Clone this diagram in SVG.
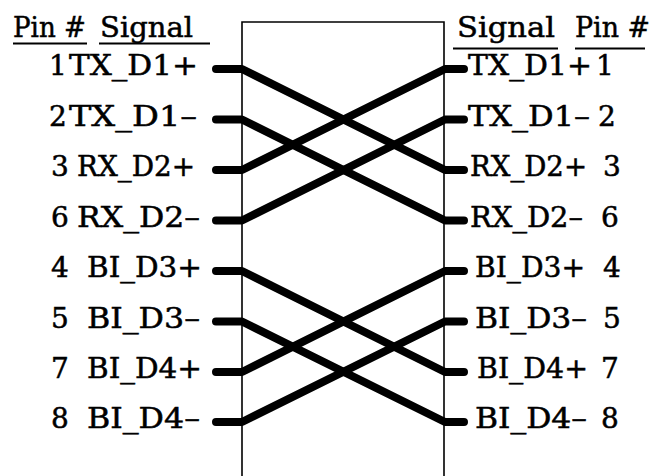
<svg xmlns="http://www.w3.org/2000/svg" width="654" height="476" viewBox="0 0 654 476">
<style>
text{font-family:"DejaVu Serif","Liberation Serif",serif;font-size:28px;fill:#000;stroke:#000;stroke-width:0.5}
.ul{stroke:#000;stroke-width:2;fill:none}
.box{stroke:#000;stroke-width:1.6;fill:none}
.wire{stroke:#000;stroke-width:8;fill:none;stroke-linecap:round;stroke-linejoin:round}
</style>
<rect width="654" height="476" fill="#fff"/>
<g id="box"><path class="box" d="M242,476 V22 H444 V476"/></g>
<g id="header-left">
<text x="13" y="37" textLength="73" lengthAdjust="spacingAndGlyphs">Pin #</text>
<text x="100" y="37" textLength="93" lengthAdjust="spacingAndGlyphs">Signal</text>
<line class="ul" x1="13" y1="43.5" x2="87" y2="43.5"/>
<line class="ul" x1="99" y1="43.5" x2="210" y2="43.5"/>
</g>
<g id="header-right">
<text x="457" y="37" textLength="98" lengthAdjust="spacingAndGlyphs">Signal</text>
<text x="575" y="37" textLength="75" lengthAdjust="spacingAndGlyphs">Pin #</text>
<line class="ul" x1="453" y1="48.5" x2="558" y2="48.5"/>
<line class="ul" x1="575" y1="48.5" x2="645" y2="48.5"/>
</g>
<g id="left-1"><text x="49" y="75">1</text><text x="69" y="75" textLength="129" lengthAdjust="spacingAndGlyphs">TX_D1+</text></g>
<g id="left-2"><text x="49" y="125.5">2</text><text x="69" y="125.5" textLength="128" lengthAdjust="spacingAndGlyphs">TX_D1–</text></g>
<g id="left-3"><text x="51" y="176">3</text><text x="77" y="176" textLength="118" lengthAdjust="spacingAndGlyphs">RX_D2+</text></g>
<g id="left-6"><text x="51" y="226.5">6</text><text x="77" y="226.5" textLength="123" lengthAdjust="spacingAndGlyphs">RX_D2–</text></g>
<g id="left-4"><text x="51" y="277">4</text><text x="87" y="277" textLength="115" lengthAdjust="spacingAndGlyphs">BI_D3+</text></g>
<g id="left-5"><text x="51" y="327.5">5</text><text x="87" y="327.5" textLength="113" lengthAdjust="spacingAndGlyphs">BI_D3–</text></g>
<g id="left-7"><text x="51" y="378">7</text><text x="87" y="378" textLength="115" lengthAdjust="spacingAndGlyphs">BI_D4+</text></g>
<g id="left-8"><text x="51" y="428">8</text><text x="87" y="428" textLength="113" lengthAdjust="spacingAndGlyphs">BI_D4–</text></g>
<g id="right-1"><text x="468" y="75" textLength="124" lengthAdjust="spacingAndGlyphs">TX_D1+</text><text x="596" y="75">1</text></g>
<g id="right-2"><text x="468" y="125.5" textLength="122" lengthAdjust="spacingAndGlyphs">TX_D1–</text><text x="598" y="125.5">2</text></g>
<g id="right-3"><text x="470" y="176" textLength="117" lengthAdjust="spacingAndGlyphs">RX_D2+</text><text x="603" y="176">3</text></g>
<g id="right-6"><text x="470" y="226.5" textLength="113" lengthAdjust="spacingAndGlyphs">RX_D2–</text><text x="601" y="226.5">6</text></g>
<g id="right-4"><text x="475" y="277" textLength="110" lengthAdjust="spacingAndGlyphs">BI_D3+</text><text x="603" y="277">4</text></g>
<g id="right-5"><text x="475" y="327.5" textLength="112" lengthAdjust="spacingAndGlyphs">BI_D3–</text><text x="603" y="327.5">5</text></g>
<g id="right-7"><text x="477" y="378" textLength="111" lengthAdjust="spacingAndGlyphs">BI_D4+</text><text x="601" y="378">7</text></g>
<g id="right-8"><text x="475" y="428" textLength="112" lengthAdjust="spacingAndGlyphs">BI_D4–</text><text x="601" y="428">8</text></g>
<g id="connectors">
<polyline class="wire" points="216,69 242,69 445,170 464,170"/>
<polyline class="wire" points="216,119.5 242,119.5 445,220.5 464,220.5"/>
<polyline class="wire" points="216,170 242,170 445,69 464,69"/>
<polyline class="wire" points="216,220.5 242,220.5 445,119.5 464,119.5"/>
<polyline class="wire" points="216,271 242,271 445,372 464,372"/>
<polyline class="wire" points="216,321.5 242,321.5 445,422 464,422"/>
<polyline class="wire" points="216,372 242,372 445,271 464,271"/>
<polyline class="wire" points="216,422 242,422 445,321.5 464,321.5"/>
</g>
</svg>
